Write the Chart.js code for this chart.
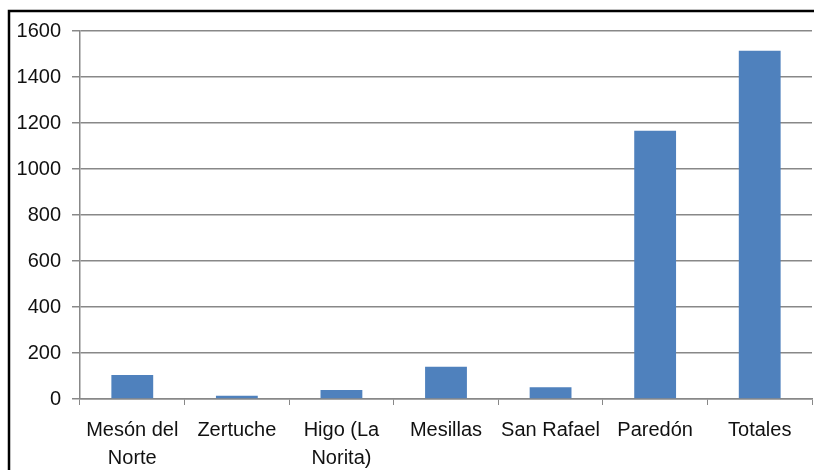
<!DOCTYPE html>
<html>
<head>
<meta charset="utf-8">
<script src="https://cdn.jsdelivr.net/npm/chart.js@4"></script>
<style>
  html, body { margin: 0; padding: 0; background: #fff; }
  #wrap { position: relative; width: 814px; height: 470px; }
</style>
</head>
<body>
<div id="wrap"><canvas id="chart" width="814" height="470"></canvas></div>
<script>
// Data
const categories = [['Mesón del', 'Norte'], 'Zertuche', ['Higo (La', 'Norita)'], 'Mesillas', 'San Rafael', 'Paredón', 'Totales'];
const values = [104, 14, 39, 140, 51, 1166, 1514];
const yTicks = [0, 200, 400, 600, 800, 1000, 1200, 1400, 1600];

// black frame around the chart (left and top edges visible)
const framePlugin = {
    id: 'frame',
    afterDraw(chart) {
        const ctx = chart.ctx;
        ctx.save();
        ctx.strokeStyle = '#000';
        ctx.lineWidth = 2.5;
        ctx.beginPath();
        ctx.moveTo(9, 470);
        ctx.lineTo(9, 11);
        ctx.lineTo(814, 11);
        ctx.stroke();
        ctx.restore();
    }
};

const ctx = document.getElementById('chart').getContext('2d');
new Chart(ctx, {
    type: 'bar',
    data: {
        labels: categories,
        datasets: [{
            data: values,
            backgroundColor: '#4F81BD',
            borderWidth: 0,
            categoryPercentage: 1,
            barPercentage: 0.4
        }]
    },
    options: {
        responsive: false,
        animation: false,
        layout: { padding: { top: 31, right: 2, left: 0, bottom: 0 } },
        plugins: { legend: { display: false }, tooltip: { enabled: false } },
        scales: {
            x: {
                grid: {
                    offset: true,
                    drawOnChartArea: false,
                    drawTicks: true,
                    tickLength: 6,
                    color: '#888'
                },
                border: { color: '#888', width: 1.5 },
                ticks: {
                    color: '#111',
                    font: { family: 'Liberation Sans', size: 20, lineHeight: 1.4 },
                    padding: 11,
                    maxRotation: 0,
                    autoSkip: false
                },
                afterFit(scale) { scale.height = 71; }
            },
            y: {
                min: 0,
                max: 1600,
                afterBuildTicks(scale) { scale.ticks = yTicks.map(v => ({ value: v })); },
                grid: { color: '#888', lineWidth: 1.5, tickLength: 8 },
                border: { color: '#888', width: 1.5 },
                ticks: {
                    color: '#111',
                    font: { family: 'Liberation Sans', size: 20 },
                    padding: 11,
                    callback: v => String(v)
                },
                afterFit(scale) { scale.width = 80; }
            }
        }
    },
    plugins: [framePlugin]
});
</script>
</body>
</html>
